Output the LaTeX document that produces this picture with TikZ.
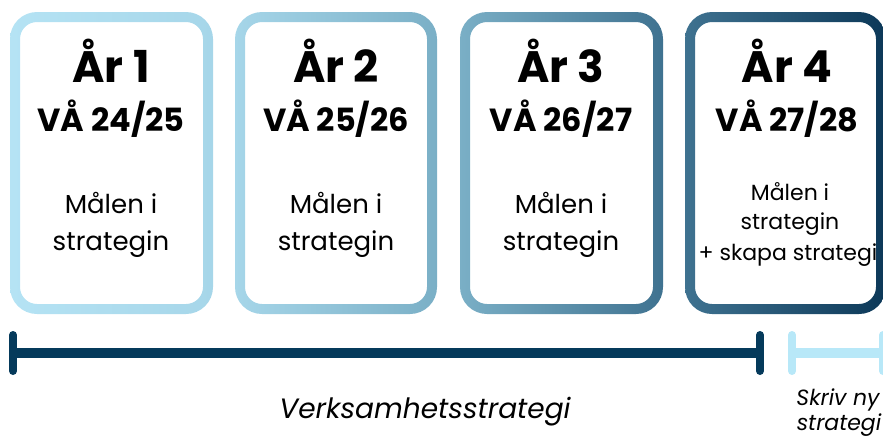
\documentclass[tikz,border=0pt]{standalone}
\usepackage{fontspec}
\setmainfont{Poppins}
\usepackage{xcolor}
\usetikzlibrary{positioning, calc}

\definecolor{c0}{HTML}{B5E3F4}
\definecolor{c1}{HTML}{A6D6E9}
\definecolor{c2}{HTML}{7AAFC6}
\definecolor{c3}{HTML}{3F7290}
\definecolor{c4}{HTML}{0C3858}
\definecolor{navy}{HTML}{053A5B}
\definecolor{skyb}{HTML}{B8E8F8}

\begin{document}
\begin{tikzpicture}[
  x=1pt, y=-1pt,
  yr/.style={anchor=base, font=\fontsize{44}{44}\selectfont\bfseries},
  va/.style={anchor=base, font=\fontsize{32}{32}\selectfont\bfseries},
  goal/.style={anchor=base, font=\fontsize{26}{26}\selectfont},
  goalsm/.style={anchor=base, font=\fontsize{22}{22}\selectfont},
  lbl/.style={anchor=base, font=\itshape},
  bar/.style={line width=10pt},
  endtick/.style={line width=8pt, line cap=round}
]
\useasboundingbox (0,0) rectangle (883,439);

% ramar
\shade[left color=c0, right color=c1, even odd rule]
  (10,12) [rounded corners=27pt] rectangle (213,314)
  (20,22) [rounded corners=17pt] rectangle (203,304);
\shade[left color=c1, right color=c2, even odd rule]
  (235,12) [rounded corners=27pt] rectangle (437,314)
  (245,22) [rounded corners=17pt] rectangle (427,304);
\shade[left color=c2, right color=c3, even odd rule]
  (460,12) [rounded corners=27pt] rectangle (663,314)
  (470,22) [rounded corners=17pt] rectangle (653,304);
\shade[left color=c3, right color=c4, even odd rule]
  (685,12) [rounded corners=27pt] rectangle (886,314)
  (695,22) [rounded corners=17pt] rectangle (876,304);

% text
\node[yr] (ar1) at (111,82) {År 1};
\node[va] (va1) at (111,131) {VÅ 24/25};
\node[goal] (m1) at (111,213) {Målen i};
\node[goal] (s1) at (111,250) {strategin};

\node[yr] (ar2) at (336,82) {År 2};
\node[va] (va2) at (336,131) {VÅ 25/26};
\node[goal] (m2) at (336,213) {Målen i};
\node[goal] (s2) at (336,250) {strategin};

\node[yr] (ar3) at (561,82) {År 3};
\node[va] (va3) at (561,131) {VÅ 26/27};
\node[goal] (m3) at (561,213) {Målen i};
\node[goal] (s3) at (561,250) {strategin};

\node[yr] (ar4) at (787,82) {År 4};
\node[va] (va4) at (787,131) {VÅ 27/28};
\node[goalsm] (m4) at (790,200) {Målen i};
\node[goalsm] (s4) at (790,229) {strategin};
\node[goalsm] (k4) at (788,260) {+ skapa strategi};

% tidslinje
\coordinate (t0) at (13,353);
\coordinate (t1) at (760,353);
\coordinate (n0) at (792,353);
\coordinate (n1) at (883,353);
\draw[navy, bar] (t0) -- (t1);
\draw[navy, endtick] ($(t0)+(0,-18)$) -- ($(t0)+(0,18)$);
\draw[navy, endtick] ($(t1)+(0,-18)$) -- ($(t1)+(0,18)$);
\draw[skyb, bar] (n0) -- (n1);
\draw[skyb, endtick] ($(n0)+(0,-18)$) -- ($(n0)+(0,18)$);
\draw[skyb, endtick] ($(n1)+(0,-18)$) -- ($(n1)+(0,18)$);

\node[lbl, font=\fontsize{28}{28}\selectfont\itshape] (vs) at (425,418) {Verksamhetsstrategi};
\node[lbl, font=\fontsize{22}{22}\selectfont\itshape] (sn) at (838,405) {Skriv ny};
\node[lbl, font=\fontsize{22}{22}\selectfont\itshape] (sg) at (839,430) {strategi};
\end{tikzpicture}
\end{document}
